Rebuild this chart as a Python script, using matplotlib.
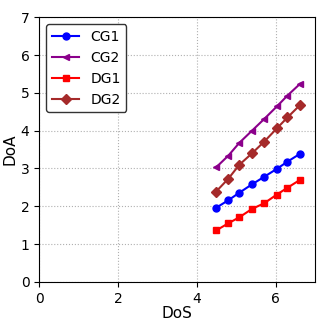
import matplotlib
matplotlib.use("Agg")
import matplotlib.pyplot as plt

dos = [4.49, 4.80, 5.08, 5.40, 5.71, 6.03, 6.30, 6.62]
cg1 = [1.96, 2.16, 2.36, 2.58, 2.78, 2.99, 3.18, 3.39]
cg2 = [3.03, 3.34, 3.68, 4.00, 4.31, 4.64, 4.93, 5.24]
dg1 = [1.36, 1.55, 1.71, 1.93, 2.08, 2.31, 2.49, 2.70]
dg2 = [2.39, 2.73, 3.10, 3.40, 3.71, 4.06, 4.35, 4.68]

fig = plt.figure(figsize=(3.32, 3.32), dpi=100)
ax = fig.add_axes([0.118, 0.151, 0.831, 0.797])

ax.plot(dos, cg1, color="blue", marker="o", markersize=5, linewidth=1.5, label="CG1")
ax.plot(dos, cg2, color="darkmagenta", marker="<", markersize=5, linewidth=1.5, label="CG2")
ax.plot(dos, dg1, color="red", marker="s", markersize=5, linewidth=1.5, label="DG1")
ax.plot(dos, dg2, color="brown", marker="D", markersize=5, linewidth=1.5, label="DG2")

ax.set_xlim(0, 7)
ax.set_ylim(0, 7)
ax.set_xlabel("DoS", fontsize=11, labelpad=0)
ax.set_ylabel("DoA", fontsize=11, labelpad=2)
ax.tick_params(labelsize=10)
ax.grid(True, linestyle=":", linewidth=0.8, color="#b0b0b0")

leg = ax.legend(loc="upper left", fontsize=10, edgecolor="#333333", framealpha=1)
leg.get_frame().set_linewidth(1.0)

fig.savefig("out.png", dpi=100)
